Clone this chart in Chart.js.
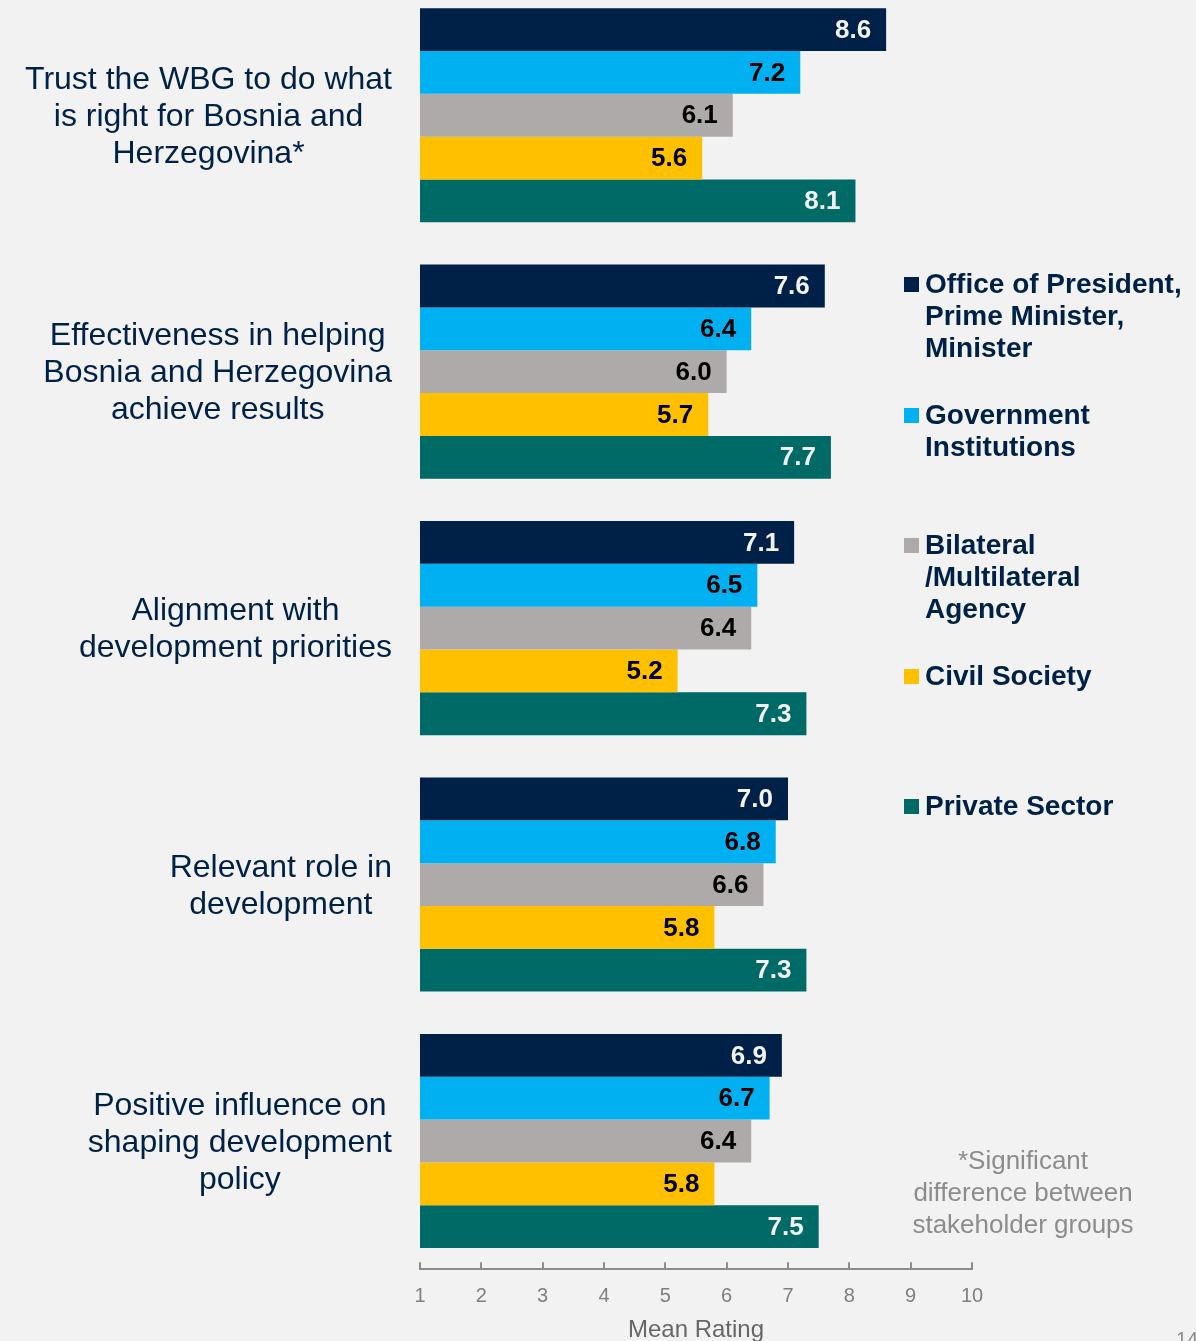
<!DOCTYPE html>
<html><head><meta charset="utf-8">
<script src="https://cdn.jsdelivr.net/npm/chart.js@4/dist/chart.umd.min.js"></script>
<style>
html,body{margin:0;padding:0;background:#f2f2f2;width:1196px;height:1341px;overflow:hidden;position:relative;font-family:"Liberation Sans",Arial,sans-serif;}
#wrap{position:absolute;left:0;top:-13px;width:1196px;height:1358px;}
.leg{position:absolute;left:925px;font-weight:bold;font-size:28px;line-height:32px;color:#002147;white-space:nowrap;}
.sq{position:absolute;left:904px;width:15px;height:15px;}
#note{position:absolute;left:880px;width:286px;top:1144px;text-align:center;color:#8c8c8c;font-size:26px;line-height:32px;}
#pg{position:absolute;left:1176px;top:1328px;color:#8c8c8c;font-size:20px;}
</style></head>
<body>
<div id="wrap"><canvas id="c" width="1196" height="1358"></canvas></div>
<div id="legend"></div>
<div id="note">*Significant<br>difference between<br>stakeholder groups</div>
<div id="pg">14</div>
<script>
const FONT = '"Liberation Sans", Arial, sans-serif';

const categories = [
  ["Trust the WBG to do what", "is right for Bosnia and", "Herzegovina*"],
  ["Effectiveness in helping", "Bosnia and Herzegovina", "achieve results"],
  ["Alignment with", "development priorities"],
  ["Relevant role in", "development"],
  ["Positive influence on", "shaping development", "policy"]
];
const seriesNames = [
  ["Office of President,", "Prime Minister,", "Minister"],
  ["Government", "Institutions"],
  ["Bilateral", "/Multilateral", "Agency"],
  ["Civil Society"],
  ["Private Sector"]
];
const seriesColors = ["#002147", "#00b0f0", "#aeaaaa", "#ffc000", "#006a66"];
const labelColors  = ["#f2f2f2", "#000000", "#000000", "#000000", "#f2f2f2"];

const officeValues    = [8.6, 7.6, 7.1, 7.0, 6.9];
const govValues       = [7.2, 6.4, 6.5, 6.8, 6.7];
const bilateralValues = [6.1, 6.0, 6.4, 6.6, 6.4];
const civilValues     = [5.6, 5.7, 5.2, 5.8, 5.8];
const privateValues   = [8.1, 7.7, 7.3, 7.3, 7.5];

const xTicks = [1, 2, 3, 4, 5, 6, 7, 8, 9, 10];
const axisTitle = "Mean Rating";

const seriesValues = [officeValues, govValues, bilateralValues, civilValues, privateValues];

// HTML legend
const legendEl = document.getElementById('legend');
seriesNames.forEach((lines, i) => {
  const top = 268 + i * 130.5;
  const sq = document.createElement('div');
  sq.className = 'sq';
  sq.style.top = (top + 9) + 'px';
  sq.style.background = seriesColors[i];
  legendEl.appendChild(sq);
  const t = document.createElement('div');
  t.className = 'leg';
  t.style.top = top + 'px';
  t.innerHTML = lines.join('<br>');
  legendEl.appendChild(t);
});

const catLabelPlugin = {
  id: 'catLabels',
  afterDraw(chart) {
    const ctx = chart.ctx;
    const ys = chart.scales.y;
    ctx.save();
    ctx.font = '32px ' + FONT;
    ctx.fillStyle = '#002147';
    ctx.textAlign = 'center';
    ctx.textBaseline = 'middle';
    categories.forEach((lines, i) => {
      const cy = ys.getPixelForValue(i) + 2;
      const maxW = Math.max(...lines.map(l => ctx.measureText(l).width));
      const cx = 392 - maxW / 2;
      lines.forEach((l, j) => {
        ctx.fillText(l, cx, cy + (j - (lines.length - 1) / 2) * 37);
      });
    });
    ctx.restore();
  }
};

const valueLabelPlugin = {
  id: 'valueLabels',
  afterDatasetsDraw(chart) {
    const ctx = chart.ctx;
    ctx.save();
    ctx.font = 'bold 26px ' + FONT;
    ctx.textAlign = 'right';
    ctx.textBaseline = 'middle';
    chart.data.datasets.forEach((ds, d) => {
      const meta = chart.getDatasetMeta(d);
      ctx.fillStyle = labelColors[d];
      meta.data.forEach((el, i) => {
        ctx.fillText(ds.data[i].toFixed(1), el.x - 15, el.y + 1);
      });
    });
    ctx.restore();
  }
};

const tickMarkPlugin = {
  id: 'tickMarks',
  afterDraw(chart) {
    const ctx = chart.ctx;
    const xs = chart.scales.x;
    const y = chart.chartArea.bottom;
    ctx.save();
    ctx.strokeStyle = '#8c8c8c';
    ctx.lineWidth = 2;
    xTicks.forEach(v => {
      const px = Math.round(xs.getPixelForValue(v));
      ctx.beginPath();
      ctx.moveTo(px, y);
      ctx.lineTo(px, y - 7);
      ctx.stroke();
    });
    ctx.restore();
  }
};

new Chart(document.getElementById('c'), {
  type: 'bar',
  data: {
    labels: categories.map((c, i) => i),
    datasets: seriesNames.map((n, i) => ({
      label: n.join(' '),
      data: seriesValues[i],
      backgroundColor: seriesColors[i],
      borderWidth: 0,
      barPercentage: 1.0,
      categoryPercentage: 0.835
    }))
  },
  options: {
    indexAxis: 'y',
    responsive: false,
    animation: false,
    events: [],
    layout: { padding: { left: 420, right: 224, top: 0, bottom: 0 } },
    plugins: { legend: { display: false }, tooltip: { enabled: false }, title: { display: false } },
    scales: {
      x: {
        type: 'linear',
        position: 'bottom',
        min: xTicks[0],
        max: xTicks[xTicks.length - 1],
        afterBuildTicks(scale) { scale.ticks = xTicks.map(v => ({ value: v })); },
        ticks: { color: '#7f7f7f', font: { size: 20, family: FONT }, padding: 15, callback: v => String(v) },
        grid: { display: false, drawTicks: false, tickLength: 0 },
        border: { display: true, color: '#8c8c8c', width: 2 },
        title: { display: true, text: axisTitle, color: '#666666', font: { size: 24, family: FONT }, padding: { top: -7, bottom: 0 } }
      },
      y: { type: 'category', display: false, offset: true, grid: { display: false } }
    }
  },
  plugins: [catLabelPlugin, valueLabelPlugin, tickMarkPlugin]
});
</script>
</body></html>
